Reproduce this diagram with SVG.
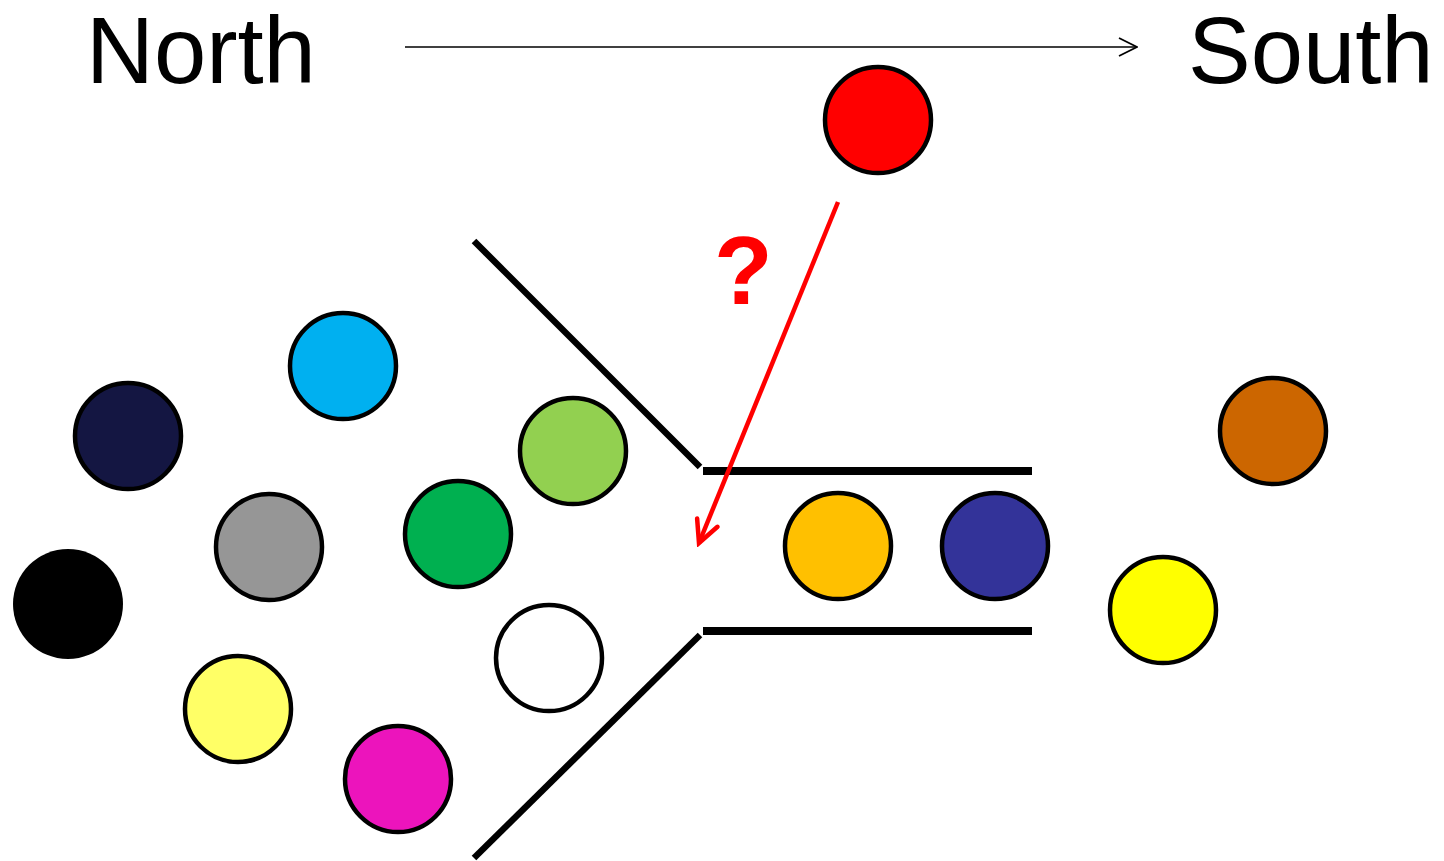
<svg xmlns="http://www.w3.org/2000/svg" width="1444" height="861" viewBox="0 0 1444 861">
<style>
.lbl{font-family:"Liberation Sans",Arial,sans-serif;font-size:94px;fill:#000}
.q{font-family:"Liberation Sans",Arial,sans-serif;font-size:96px;font-weight:bold;fill:#ff0000}
.ball{stroke:#000;stroke-width:4.5}
.diag{stroke:#000;stroke-width:6.5;fill:none}
.rail{stroke:#000;stroke-width:8;fill:none}
</style>
<defs>
<marker id="openArrow" markerWidth="20" markerHeight="20" refX="19" refY="10" orient="auto" markerUnits="userSpaceOnUse">
<path d="M1,1 L19,10 L1,19" fill="none" stroke="#000" stroke-width="1.8"/>
</marker>
<marker id="redArrow" markerWidth="30" markerHeight="30" refX="26" refY="15" orient="auto" markerUnits="userSpaceOnUse">
<path d="M4,4 L26,15 L4,26" fill="none" stroke="#ff0000" stroke-width="4.5" stroke-linecap="round"/>
</marker>
</defs>
<rect width="1444" height="861" fill="#fff"/>
<g id="labels">
<text class="lbl" x="86" y="83">North</text>
<text class="lbl" x="1188" y="83">South</text>
<text class="q" x="714" y="304">?</text>
</g>
<g id="funnel">
<line class="diag" x1="474" y1="241" x2="700" y2="467"/>
<line class="rail" x1="703" y1="471" x2="1032" y2="471"/>
<line class="rail" x1="703" y1="631" x2="1032" y2="631"/>
<line class="diag" x1="700" y1="635" x2="474" y2="858"/>
</g>
<g id="connectors">
<line x1="405" y1="47" x2="1137" y2="47" stroke="#000" stroke-width="1.6" marker-end="url(#openArrow)"/>
<line x1="838" y1="202" x2="699" y2="543" stroke="#ff0000" stroke-width="4.5" marker-end="url(#redArrow)"/>
</g>
<g id="ball-red"><circle class="ball" cx="878" cy="120" r="53" fill="#ff0000"/></g>
<g id="ball-navy"><circle class="ball" cx="128" cy="436" r="53" fill="#141642"/></g>
<g id="ball-skyblue"><circle class="ball" cx="343" cy="366" r="53" fill="#00b0f0"/></g>
<g id="ball-lightgreen"><circle class="ball" cx="573" cy="451" r="53" fill="#92d050"/></g>
<g id="ball-gray"><circle class="ball" cx="269" cy="547" r="53" fill="#969696"/></g>
<g id="ball-green"><circle class="ball" cx="458" cy="534" r="53" fill="#00b050"/></g>
<g id="ball-black"><circle cx="68" cy="604" r="55" fill="#000"/></g>
<g id="ball-white"><circle class="ball" cx="549" cy="658" r="53" fill="#fff"/></g>
<g id="ball-paleyellow"><circle class="ball" cx="238" cy="709" r="53" fill="#ffff66"/></g>
<g id="ball-magenta"><circle class="ball" cx="398" cy="779" r="53" fill="#ec14bc"/></g>
<g id="ball-gold"><circle class="ball" cx="838" cy="546" r="53" fill="#ffc000"/></g>
<g id="ball-indigo"><circle class="ball" cx="995" cy="546" r="53" fill="#333399"/></g>
<g id="ball-brown"><circle class="ball" cx="1273" cy="431" r="53" fill="#cc6600"/></g>
<g id="ball-yellow"><circle class="ball" cx="1163" cy="610" r="53" fill="#ffff00"/></g>
</svg>
